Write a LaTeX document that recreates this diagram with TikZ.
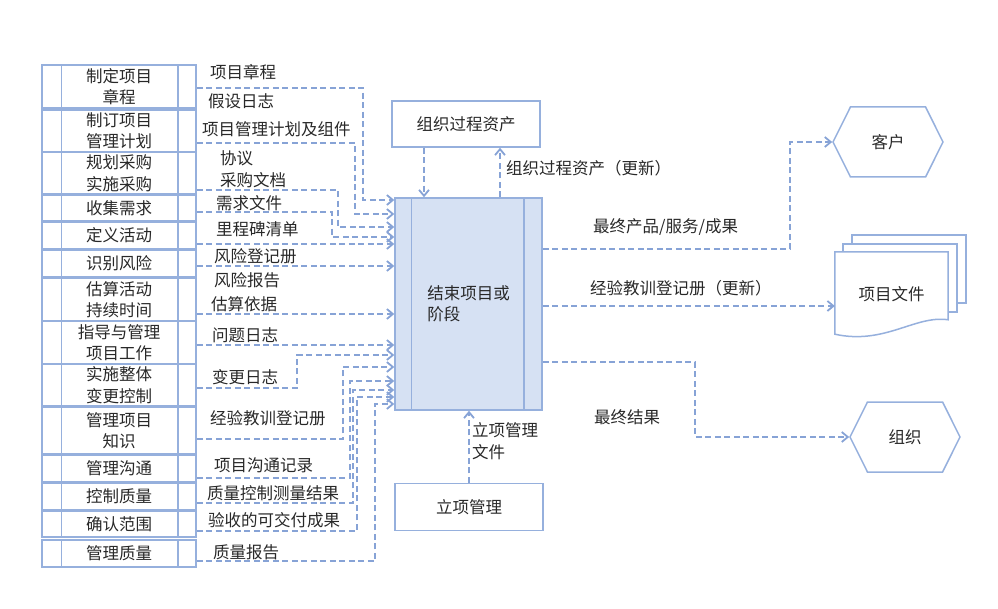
\documentclass[tikz,border=0pt]{standalone}
\usepackage{fontspec}
\setmainfont{Noto Sans CJK SC}
\usetikzlibrary{arrows.meta,shapes.symbols,calc,backgrounds}

\definecolor{boxline}{RGB}{150,176,221}
\definecolor{flowblue}{RGB}{135,163,214}
\definecolor{mainfill}{RGB}{214,225,243}
\definecolor{txt}{RGB}{40,40,40}

\tikzset{
  proc/.style={draw=boxline, line width=1.5pt, minimum width=154pt, inner sep=0pt, align=center, text=txt},
  sidebox/.style={draw=boxline, line width=1.5pt, minimum width=148pt, text=txt},
  inflow/.style={draw=flowblue, line width=1.8pt, dash pattern=on 6pt off 3.5pt,
    -{Straight Barb[length=6pt,width=10pt]}},
  lab/.style={anchor=west, text=txt, inner sep=0pt, align=left},
  hexa/.style={signal, signal to=west and east, signal pointer angle=127,
    draw=boxline, line width=1.5pt, minimum width=110pt, minimum height=70pt, text=txt}
}

\begin{document}
\begin{tikzpicture}[x=1pt, y=-1pt, font=\fontsize{16.5pt}{21.5pt}\selectfont]
\useasboundingbox (0,0) rectangle (998,609);

% process column
\foreach \n/\c/\h/\t in {
  zdxm/86.5/43/{制定项目\\章程},
  zdjh/131/42/{制订项目\\管理计划},
  cggh/173/42/{规划采购\\实施采购},
  sjxq/208/26/{收集需求},
  dyhd/235.5/27/{定义活动},
  sbfx/263.5/27/{识别风险},
  gshd/299.5/43/{估算活动\\持续时间},
  zdgl/342.5/43/{指导与管理\\项目工作},
  ztbg/385/42/{实施整体\\变更控制},
  glzs/430.5/47/{管理项目\\知识},
  glgt/468.5/27/{管理沟通},
  kzzl/496.5/27/{控制质量},
  qrfw/524/26/{确认范围},
  glzl/553.5/27/{管理质量}}{
  \node[proc, minimum height=\h pt] (\n) at (119,\c) {\t};
  \draw[boxline, line width=1.5pt]
    ([xshift=20pt]\n.north west) -- ([xshift=20pt]\n.south west)
    ([xshift=-19pt]\n.north east) -- ([xshift=-19pt]\n.south east);
}

% central process
\node[draw=boxline, fill=mainfill, line width=1.5pt, minimum width=147pt,
  minimum height=212pt, align=left, text=txt] (jsxm) at (468.5,304) {结束项目或\\阶段};
\draw[boxline, line width=1.5pt]
  ([xshift=17pt]jsxm.north west) -- ([xshift=17pt]jsxm.south west)
  ([xshift=-19pt]jsxm.north east) -- ([xshift=-19pt]jsxm.south east);

\node[sidebox, minimum height=46pt] (zzzc) at (466,124) {组织过程资产};
\node[sidebox, minimum height=47pt] (lxgl) at (469,507) {立项管理};

% outputs
\node[hexa] (kehu) at (888,142) {客户};
\node[hexa] (zuzhi) at (905,437) {组织};
\node[text=txt, minimum width=113pt, minimum height=84pt] (xmwj) at (891.5,294) {项目文件};
\begin{pgfonlayer}{background}
  \draw[boxline, line width=1.5pt, fill=white]
    ($(xmwj.north west)+(17,-17)$) rectangle ($(xmwj.north east)+(18,51)$);
  \draw[boxline, line width=1.5pt, fill=white]
    ($(xmwj.north west)+(8,-8)$) rectangle ($(xmwj.north east)+(9,60)$);
  \draw[boxline, line width=1.5pt, fill=white]
    (xmwj.north west) -- (xmwj.north east) -- ($(xmwj.north east)+(0,68)$)
    .. controls ($(xmwj.north east)+(-33,63)$) and ($(xmwj.south west)+(50,9)$)
    .. ($(xmwj.south west)+(0,-2)$) -- cycle;
\end{pgfonlayer}

% inputs
\draw[inflow] (zdxm.east |- 0,88) -| (363,200) -- (jsxm.west |- 0,200);
\draw[inflow] (zdjh.east |- 0,143) -| (355,214) -- (jsxm.west |- 0,214);
\draw[inflow] (cggh.east |- 0,190) -| (338,227) -- (jsxm.west |- 0,227);
\draw[inflow] (sjxq.east |- 0,212) -| (332,237) -- (jsxm.west |- 0,237);
\draw[inflow] (dyhd.east |- 0,244) -- (jsxm.west |- 0,244);
\draw[inflow] (sbfx.east |- 0,266) -- (jsxm.west |- 0,266);
\draw[inflow] (gshd.east |- 0,314) -- (jsxm.west |- 0,314);
\draw[inflow] (zdgl.east |- 0,345) -- (jsxm.west |- 0,345);
\draw[inflow] (ztbg.east |- 0,388) -| (297,355) -- (jsxm.west |- 0,355);
\draw[inflow] (glzs.east |- 0,439) -| (343,367) -- (jsxm.west |- 0,367);
\draw[inflow] (glgt.east |- 0,478) -| (350,381) -- (jsxm.west |- 0,381);
\draw[inflow] (kzzl.east |- 0,503) -| (353,390) -- (jsxm.west |- 0,390);
\draw[inflow] (qrfw.east |- 0,531) -| (357,397) -- (jsxm.west |- 0,397);
\draw[inflow] (glzl.east |- 0,561) -| (375,404) -- (jsxm.west |- 0,404);

\draw[inflow] (zzzc.south -| 424,0) -- (jsxm.north -| 424,0);
\draw[inflow] (jsxm.north -| 500,0) -- (zzzc.south -| 500,0);
\draw[inflow] (lxgl.north) -- (jsxm.south -| lxgl.north);

\draw[inflow] (jsxm.east |- 0,249) -| (790,142) -- (kehu.west);
\draw[inflow] (jsxm.east |- 0,306) -- (xmwj.west |- 0,306);
\draw[inflow] (jsxm.east |- 0,362) -| (695,437) -- (zuzhi.west);

% labels
\foreach \x/\y/\t [count=\i] in {
  210/72/项目章程, 208/101/假设日志, 202/129/项目管理计划及组件,
  220/158/协议, 220/180/采购文档, 216/203/需求文件, 216/229/里程碑清单,
  214/256/风险登记册, 214/280/风险报告, 211/304/估算依据, 212/335/问题日志,
  212/377/变更日志, 210/418/经验教训登记册, 214/465/项目沟通记录,
  207/493/质量控制测量结果, 208/520/验收的可交付成果, 213/552/质量报告,
  506/168/组织过程资产（更新）, 593/227/{最终产品/服务/成果},
  590/288/经验教训登记册（更新）, 594/417/最终结果, 472/441/{立项管理\\文件}}{
  \node[lab] (lab\i) at (\x,\y) {\t};
}
\end{tikzpicture}
\end{document}
